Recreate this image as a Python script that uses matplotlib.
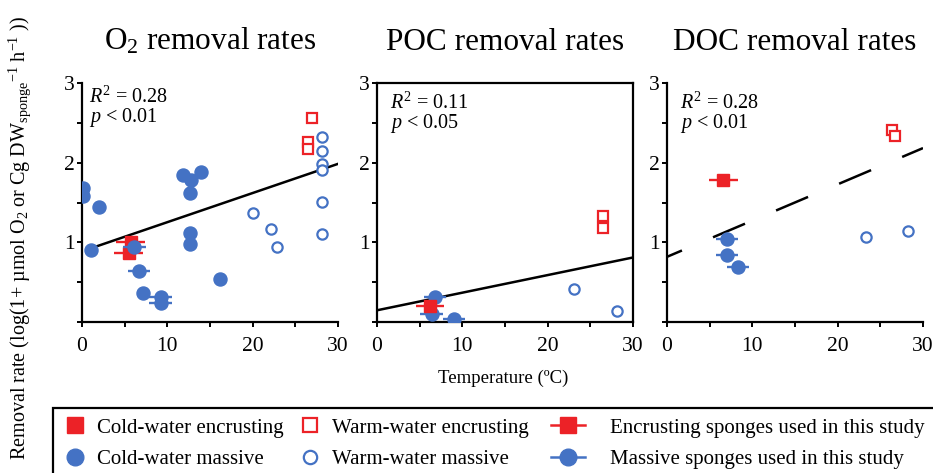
import matplotlib
matplotlib.use('Agg')
import matplotlib.pyplot as plt
from matplotlib.lines import Line2D
from matplotlib.patches import Rectangle

plt.rcParams['font.family'] = ['Liberation Serif', 'DejaVu Serif']
plt.rcParams['mathtext.fontset'] = 'custom'
plt.rcParams['mathtext.rm'] = 'Liberation Serif'
plt.rcParams['mathtext.it'] = 'Liberation Serif:italic'

BLUE = '#4472C4'
RED = '#EC2227'

# ---------------- data ----------------
titles = ['O$_2$ removal rates', 'POC removal rates', 'DOC removal rates']

# O2 panel
o2_cold_massive_x = [0.1, 0.1, 2.0, 1.1, 11.8, 12.8, 12.7, 14.0, 12.7, 12.7, 16.2, 7.1]
o2_cold_massive_y = [1.68, 1.58, 1.44, 0.91, 1.85, 1.78, 1.62, 1.88, 1.12, 0.98, 0.54, 0.37]
o2_study_encr_x = [5.7, 5.5]
o2_study_encr_y = [1.01, 0.87]
o2_study_encr_xerr = [1.7, 1.7]
o2_study_massive_x = [6.1, 6.7, 9.2, 9.2]
o2_study_massive_y = [0.94, 0.64, 0.31, 0.24]
o2_study_massive_xerr = [1.35, 1.3, 1.35, 1.35]
o2_warm_encr_x = [26.9, 26.5, 26.5]
o2_warm_encr_y = [2.56, 2.26, 2.17]
o2_warm_massive_x = [28.1, 28.1, 28.1, 28.1, 28.1, 28.1, 20.0, 22.2, 22.8]
o2_warm_massive_y = [2.32, 2.15, 1.98, 1.91, 1.51, 1.11, 1.37, 1.17, 0.94]
o2_fit = dict(intercept=0.887, slope=0.0366, xmin=1.1, xmax=30.0)
o2_stats = ('0.28', '0.01')

# POC panel
poc_cold_massive_x = []
poc_cold_massive_y = []
poc_study_encr_x = [6.2]
poc_study_encr_y = [0.20]
poc_study_encr_xerr = [1.66]
poc_study_massive_x = [6.8, 6.4, 9.0]
poc_study_massive_y = [0.31, 0.10, 0.04]
poc_study_massive_xerr = [1.3, 1.35, 1.27]
poc_warm_encr_x = [26.5, 26.5]
poc_warm_encr_y = [1.33, 1.18]
poc_warm_massive_x = [23.1, 28.1]
poc_warm_massive_y = [0.41, 0.14]
poc_fit = dict(intercept=0.147, slope=0.0221, xmin=0.0, xmax=30.0)
poc_stats = ('0.11', '0.05')

# DOC panel
doc_cold_massive_x = []
doc_cold_massive_y = []
doc_study_encr_x = [6.6]
doc_study_encr_y = [1.78]
doc_study_encr_xerr = [1.7]
doc_study_massive_x = [7.0, 7.0, 8.3]
doc_study_massive_y = [1.04, 0.84, 0.69]
doc_study_massive_xerr = [1.3, 1.3, 1.3]
doc_warm_encr_x = [26.4, 26.7]
doc_warm_encr_y = [2.41, 2.34]
doc_warm_massive_x = [23.3, 28.2]
doc_warm_massive_y = [1.07, 1.14]
doc_fit = dict(intercept=0.818, slope=0.0455, xmin=0.0, xmax=30.0)
doc_stats = ('0.28', '0.01')

legend_labels = ['Cold-water encrusting', 'Cold-water massive',
                 'Warm-water encrusting', 'Warm-water massive',
                 'Encrusting sponges used in this study',
                 'Massive sponges used in this study']

panels = [
    dict(cm=(o2_cold_massive_x, o2_cold_massive_y),
         se=(o2_study_encr_x, o2_study_encr_y, o2_study_encr_xerr),
         sm=(o2_study_massive_x, o2_study_massive_y, o2_study_massive_xerr),
         we=(o2_warm_encr_x, o2_warm_encr_y),
         wm=(o2_warm_massive_x, o2_warm_massive_y),
         fit=o2_fit, stats=o2_stats, dashed=False, box=False, red_top=False,
         tx=0.8, ty=(2.755, 2.516)),
    dict(cm=(poc_cold_massive_x, poc_cold_massive_y),
         se=(poc_study_encr_x, poc_study_encr_y, poc_study_encr_xerr),
         sm=(poc_study_massive_x, poc_study_massive_y, poc_study_massive_xerr),
         we=(poc_warm_encr_x, poc_warm_encr_y),
         wm=(poc_warm_massive_x, poc_warm_massive_y),
         fit=poc_fit, stats=poc_stats, dashed=False, box=True, red_top=True,
         tx=1.5, ty=(2.673, 2.434)),
    dict(cm=(doc_cold_massive_x, doc_cold_massive_y),
         se=(doc_study_encr_x, doc_study_encr_y, doc_study_encr_xerr),
         sm=(doc_study_massive_x, doc_study_massive_y, doc_study_massive_xerr),
         we=(doc_warm_encr_x, doc_warm_encr_y),
         wm=(doc_warm_massive_x, doc_warm_massive_y),
         fit=doc_fit, stats=doc_stats, dashed=True, box=False, red_top=False,
         tx=1.5, ty=(2.673, 2.434)),
]

# ---------------- figure ----------------
W, H = 933, 473
fig = plt.figure(figsize=(W / 100, H / 100), dpi=100)

ax_lefts = [82, 377, 667]
ax_w = 256
ax_top, ax_bot = 83, 322

for i, p in enumerate(panels):
    ax = fig.add_axes([ax_lefts[i] / W, 1 - ax_bot / H, ax_w / W, (ax_bot - ax_top) / H])
    ax.set_xlim(0, 30)
    ax.set_ylim(0, 3)
    for s in ['left', 'bottom', 'top', 'right']:
        ax.spines[s].set_linewidth(1.6)
    if not p['box']:
        ax.spines['top'].set_visible(False)
        ax.spines['right'].set_visible(False)
    ax.set_xticks([0, 5, 10, 15, 20, 25, 30])
    ax.set_xticklabels(['0', '', '10', '', '20', '', '30'])
    ax.set_yticks([0, 0.5, 1, 1.5, 2, 2.5, 3])
    ax.set_yticklabels(['', '', '1', '', '2', '', '3'])
    ax.tick_params(axis='both', direction='out', length=3.5, width=1.4, labelsize=15.5)
    ax.tick_params(axis='x', pad=7)
    ax.tick_params(axis='y', pad=1.5)
    ax.set_title(titles[i], fontsize=22.5, pad=24)

    f = p['fit']
    xs = [f['xmin'], f['xmax']]
    ys = [f['intercept'] + f['slope'] * v for v in xs]
    if p['dashed']:
        ax.plot(xs, ys, color='black', lw=1.8, linestyle=(7.4, (13.9, 13.5)), zorder=2)
    else:
        ax.plot(xs, ys, color='black', lw=1.8, zorder=2)

    ax.plot(p['cm'][0], p['cm'][1], 'o', color=BLUE, ms=9.4, mec=BLUE, zorder=3)
    ax.plot(p['wm'][0], p['wm'][1], 'o', mfc='white', mec=BLUE, ms=7.4, mew=1.6, zorder=3)
    ax.plot(p['we'][0], p['we'][1], 's', mfc='white', mec=RED, ms=7.0, mew=1.6, zorder=3)
    zr, zb = (5, 4) if p['red_top'] else (4, 5)
    ax.errorbar(p['se'][0], p['se'][1], xerr=p['se'][2], fmt='s', color=RED, ms=9.0,
                mec=RED, elinewidth=1.7, capsize=0, zorder=zr)
    ax.errorbar(p['sm'][0], p['sm'][1], xerr=p['sm'][2], fmt='o', color=BLUE, ms=9.4,
                mec=BLUE, elinewidth=1.7, capsize=0, zorder=zb)

    ax.text(p['tx'], p['ty'][0], r'$R^2$ = ' + p['stats'][0], fontsize=14.5, va='baseline')
    ax.text(p['tx'], p['ty'][1], r'$p$ < ' + p['stats'][1], fontsize=14.5, va='baseline')

# axis labels
fig.text(503 / W, 1 - 383 / H, 'Temperature (ºC)', fontsize=13.5, ha='center', va='baseline')
fig.text(20 / W, 1 - 238 / H,
         r'Removal rate (log(1+ µmol O$_2$ or Cg DW$_{\mathrm{sponge}}{}^{-1}$ h$^{-1}$ ))',
         fontsize=14.5, rotation=90, ha='center', va='center')

# legend frame (extends past figure edges as in the reference)
fig.add_artist(Rectangle((53 / W, 1 - 490 / H), (960 - 53) / W, (490 - 408) / H,
                         transform=fig.transFigure, fill=False, lw=1.6,
                         edgecolor='black', clip_on=False))

h_cold_enc = Line2D([], [], marker='s', ls='none', color=RED, mec=RED, ms=12)
h_cold_mas = Line2D([], [], marker='o', ls='none', color=BLUE, mec=BLUE, ms=12)
h_warm_enc = Line2D([], [], marker='s', ls='none', mfc='white', mec=RED, ms=9.6, mew=1.6)
h_warm_mas = Line2D([], [], marker='o', ls='none', mfc='white', mec=BLUE, ms=9.6, mew=1.6)
h_st_enc = Line2D([], [], marker='s', ls='-', lw=1.8, color=RED, mec=RED, ms=12)
h_st_mas = Line2D([], [], marker='o', ls='-', lw=1.8, color=BLUE, mec=BLUE, ms=12)

cols = [([h_cold_enc, h_cold_mas], legend_labels[0:2], 64.6, 1.0, 0.56),
        ([h_warm_enc, h_warm_mas], legend_labels[2:4], 299.6, 1.0, 0.56),
        ([h_st_enc, h_st_mas], legend_labels[4:6], 551.4, 1.6, 1.22)]
for hs, ls, x0, hl, htp in cols:
    fig.legend(hs, ls, loc='center left', bbox_to_anchor=(x0 / W, 1 - 443.5 / H),
               frameon=False, fontsize=15, borderpad=0, borderaxespad=0,
               handlelength=hl, handletextpad=htp, labelspacing=0.55, numpoints=1)

fig.savefig('out.png', dpi=100)
